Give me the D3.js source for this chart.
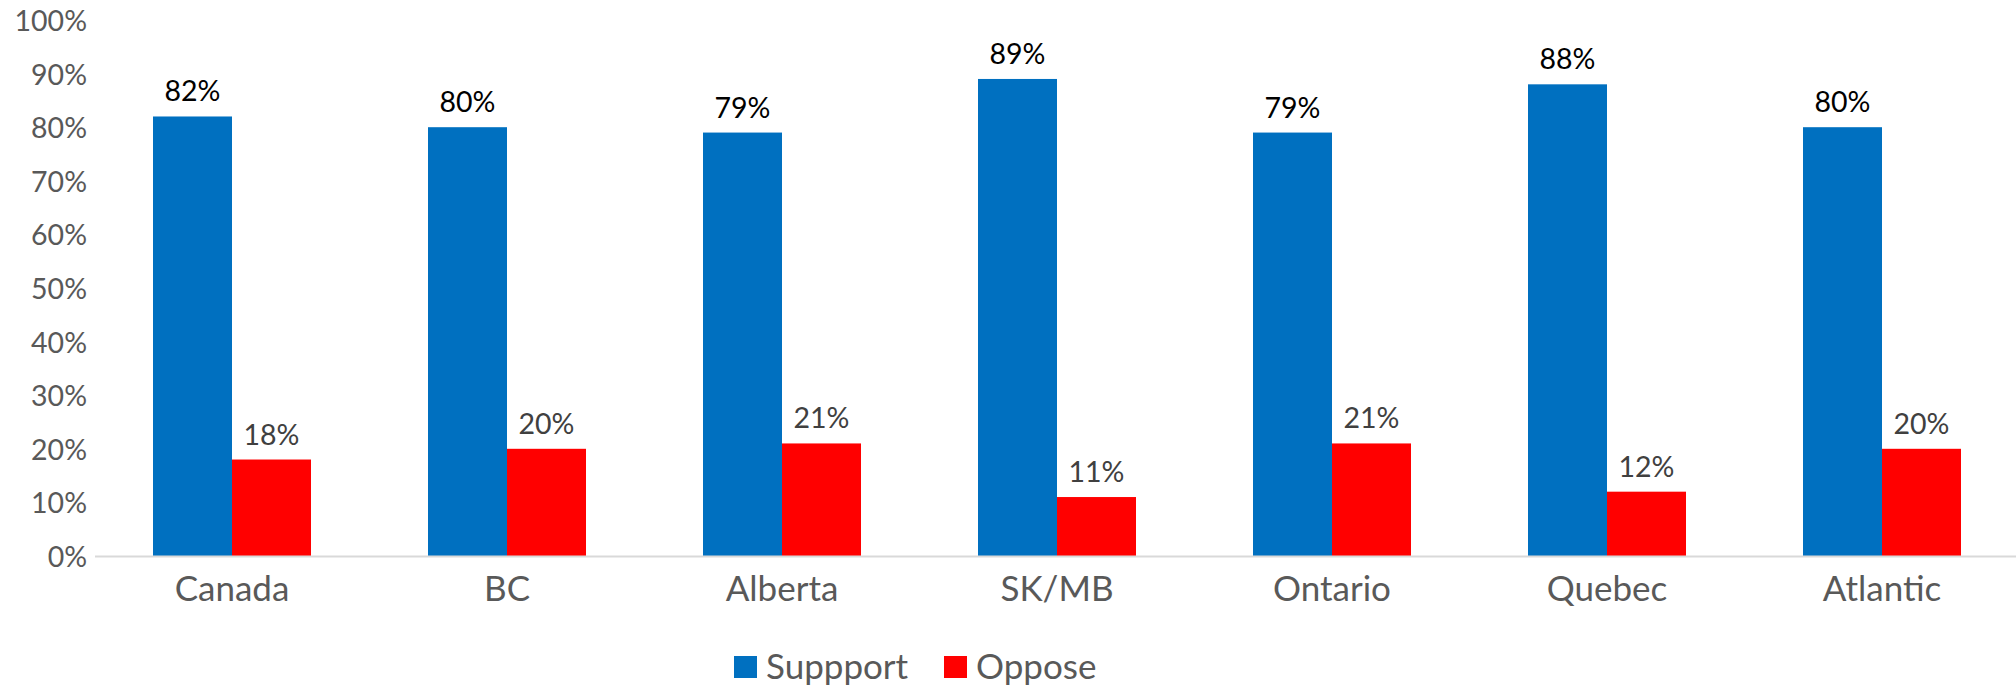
<!DOCTYPE html>
<html>
<head>
<meta charset="utf-8">
<script src="https://cdn.jsdelivr.net/npm/d3@7"></script>
<style>
  html, body { margin: 0; padding: 0; background: #fff; }
  svg { display: block; font-family: Lato, "Open Sans", sans-serif; }
</style>
</head>
<body>
<svg id="chart" width="2016" height="686"></svg>
<script>
const categories = ["Canada", "BC", "Alberta", "SK/MB", "Ontario", "Quebec", "Atlantic"];
const seriesNames = ["Suppport", "Oppose"];
const supportValues = [0.82, 0.80, 0.79, 0.89, 0.79, 0.88, 0.80];
const opposeValues  = [0.18, 0.20, 0.21, 0.11, 0.21, 0.12, 0.20];
const yTicks = [0, 0.1, 0.2, 0.3, 0.4, 0.5, 0.6, 0.7, 0.8, 0.9, 1.0];

const colors = { "Suppport": "#0070C0", "Oppose": "#FF0000" };
const labelColors = { "Suppport": "#000000", "Oppose": "#404040" };

const seriesValues = { "Suppport": supportValues, "Oppose": opposeValues };
const data = categories.map((c, i) => ({
  category: c,
  values: seriesNames.map(s => ({ series: s, value: seriesValues[s][i] }))
}));

const svg = d3.select("#chart");
const plotLeft = 94.5, plotRight = 2019.5, plotTop = 20, plotBottom = 556;
const gapRatio = 117 / 275;

const x0 = d3.scaleBand().domain(categories).range([plotLeft, plotRight])
  .paddingInner(gapRatio).paddingOuter(gapRatio / 2);
const x1 = d3.scaleBand().domain(seriesNames).range([0, x0.bandwidth()]);
const y = d3.scaleLinear().domain([0, 1]).range([plotBottom, plotTop]);

// Y axis labels
const yAxis = d3.axisLeft(y).tickValues(yTicks).tickFormat(d3.format(".0%")).tickSize(0).tickPadding(0);
const yg = svg.append("g").attr("transform", `translate(87,0)`).call(yAxis);
yg.select(".domain").remove();
yg.selectAll("text")
  .attr("fill", "#595959")
  .attr("font-size", 28.5)
  .attr("font-family", "Lato, sans-serif")
  .attr("dy", "0.37em");

// Bars
const groups = svg.append("g").selectAll("g").data(data).join("g")
  .attr("transform", d => `translate(${x0(d.category)},0)`);

groups.selectAll("rect").data(d => d.values).join("rect")
  .attr("x", d => x1(d.series))
  .attr("width", x1.bandwidth())
  .attr("y", d => y(d.value))
  .attr("height", d => y(0) - y(d.value))
  .attr("fill", d => colors[d.series]);

groups.selectAll("text.val").data(d => d.values).join("text")
  .attr("class", "val")
  .attr("x", d => x1(d.series) + x1.bandwidth() / 2)
  .attr("y", d => y(d.value) - 15)
  .attr("text-anchor", "middle")
  .attr("font-size", 28.5)
  .attr("fill", d => labelColors[d.series])
  .text(d => d3.format(".0%")(d.value));

// X axis line
const xAxis = d3.axisBottom(x0).tickSize(0).tickPadding(0);
const xg = svg.append("g").attr("transform", `translate(0,${plotBottom})`).call(xAxis);
xg.select(".domain").attr("stroke", "#d9d9d9").attr("stroke-width", 2);
xg.selectAll("text")
  .attr("fill", "#595959")
  .attr("font-size", 35)
  .attr("font-family", "Lato, sans-serif")
  .attr("dy", 0)
  .attr("y", 45);

// Legend
const legendX = [734, 944];
const legend = svg.append("g").selectAll("g").data(seriesNames).join("g")
  .attr("transform", (d, i) => `translate(${legendX[i]},656)`);
legend.append("rect").attr("width", 23).attr("height", 22).attr("fill", d => colors[d]);
legend.append("text").attr("x", 32).attr("y", 23)
  .attr("font-size", 35).attr("fill", "#595959").text(d => d);
</script>
</body>
</html>
